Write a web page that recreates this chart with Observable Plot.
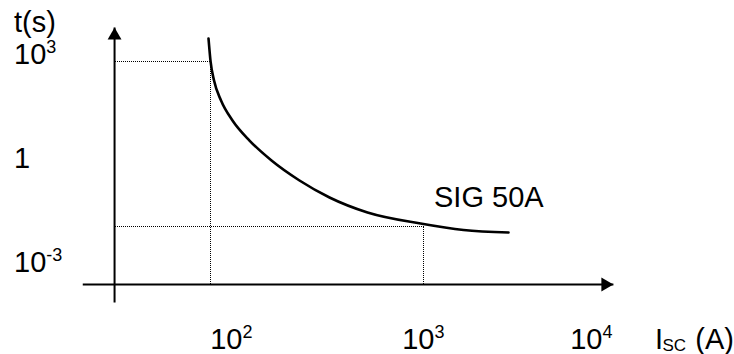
<!DOCTYPE html>
<html><head><meta charset="utf-8">
<script src="https://cdn.jsdelivr.net/npm/d3@7"></script>
<script src="https://cdn.jsdelivr.net/npm/@observablehq/plot@0.6"></script>
<style>body{margin:0;background:#fff} svg{display:block}</style>
</head><body><div id="chart"></div>
<script>
// Fuse curve SIG 50A : short-circuit current (A) vs time (s), log-log schematic
const curveCurrent = [75.9, 77.8, 81.1, 88.2, 101.2, 124.1, 161.6, 226, 324, 511, 965, 1730, 3206];
const curveTime = [2890, 630, 178, 47.1, 12.5, 3.3, 0.875, 0.232, 0.075, 0.0277, 0.0133, 0.00867, 0.00734];
// reference points marked with dotted guide lines
const refCurrent = [78, 1000];
const refTime = [630, 0.0109];
// tick labels
const yTickValues = [1e3, 1, 1e-3];
const yTickBase = ["10", "1", "10"];
const yTickExp = ["3", "", "-3"];
const xTickValues = [100, 1000, 10000];
const xTickBase = ["10", "10", "10"];
const xTickExp = ["2", "3", "4"];
// axis extents (data units)
const axisCurrent = [16.8, 13500];
const axisTime = [7e-5, 6000];
const originCurrent = 24.6;
const originTime = 2.32e-4;
const seriesLabel = "SIG 50A";
const seriesLabelCurrent = 1155;
const seriesLabelTime = 0.0386;
const yTitle = "t(s)";
const xTitleMain = "I", xTitleSub = "SC", xTitleUnit = "(A)";

const curve = curveCurrent.map((I, i) => ({I, t: curveTime[i]}));
const refs = refCurrent.map((I, i) => ({I, t: refTime[i]}));

const FS = 29, FSS = 18;

const chart = Plot.plot({
  width: 734,
  height: 354,
  marginTop: 10.5,
  marginLeft: 13.5,
  marginRight: 0.5,
  marginBottom: 6,
  style: {fontFamily: "'Liberation Sans', Arial, Helvetica, sans-serif", fontSize: FS + "px", background: "white", color: "black"},
  x: {type: "log", domain: [100, 1000, 10000], range: [231, 423, 591], axis: null},
  y: {type: "log", domain: [1e-3, 1e3], range: [262, 54], axis: null},
  marks: [
    // dotted guides
    Plot.link(refs, {x1: () => originCurrent, x2: "I", y1: "t", y2: "t", stroke: "black", strokeWidth: 1, strokeDasharray: "1,1", shapeRendering: "crispEdges"}),
    Plot.link(refs, {x1: "I", x2: "I", y1: "t", y2: () => originTime, stroke: "black", strokeWidth: 1, strokeDasharray: "1,1", shapeRendering: "crispEdges"}),
    // axes
    Plot.link([0], {x1: () => originCurrent, x2: () => originCurrent, y1: () => axisTime[0], y2: () => axisTime[1], stroke: "black", strokeWidth: 2}),
    Plot.link([0], {x1: () => axisCurrent[0], x2: () => axisCurrent[1], y1: () => originTime, y2: () => originTime, stroke: "black", strokeWidth: 2}),
    Plot.dot([0], {x: () => originCurrent, y: () => axisTime[1], symbol: "triangle", r: 5.14, fill: "black", stroke: "none", dy: 8}),
    Plot.dot([0], {x: () => axisCurrent[1], y: () => originTime, symbol: "triangle", rotate: 90, r: 5.14, fill: "black", stroke: "none", dx: -8}),
    // curve
    Plot.line(curve, {x: "I", y: "t", curve: "monotone-x", stroke: "black", strokeWidth: 2.6}),
    Plot.text([seriesLabel], {x: () => seriesLabelCurrent, y: () => seriesLabelTime, text: d => d, textAnchor: "start", lineAnchor: "bottom", fontSize: FS}),
    // y tick labels
    Plot.text(yTickValues, {y: d => d, text: (d, i) => yTickBase[i], frameAnchor: "left", textAnchor: "start", lineAnchor: "middle", fontSize: FS}),
    Plot.text(yTickValues, {y: d => d, text: (d, i) => yTickExp[i], frameAnchor: "left", textAnchor: "start", lineAnchor: "middle", fontSize: FSS, dx: 32.2, dy: -7.5}),
    // x tick labels
    Plot.text(xTickValues, {x: d => d, text: (d, i) => xTickBase[i], frameAnchor: "bottom", textAnchor: "end", lineAnchor: "bottom", dx: 11, fontSize: FS}),
    Plot.text(xTickValues, {x: d => d, text: (d, i) => xTickExp[i], frameAnchor: "bottom", textAnchor: "start", lineAnchor: "bottom", dx: 11, dy: -11, fontSize: FSS}),
    // axis titles
    Plot.text([yTitle], {text: d => d, frameAnchor: "top-left", textAnchor: "start", lineAnchor: "top", fontSize: FS}),
    Plot.text([xTitleMain], {text: d => d, frameAnchor: "bottom-right", textAnchor: "start", lineAnchor: "bottom", dx: -79, fontSize: FS}),
    Plot.text([xTitleSub], {text: d => d, frameAnchor: "bottom-right", textAnchor: "start", lineAnchor: "bottom", dx: -71.5, dy: 2, fontSize: 17}),
    Plot.text([xTitleUnit], {text: d => d, frameAnchor: "bottom-right", textAnchor: "end", lineAnchor: "bottom", dx: 0, fontSize: FS})
  ]
});
document.getElementById("chart").append(chart);
</script>
</body></html>
